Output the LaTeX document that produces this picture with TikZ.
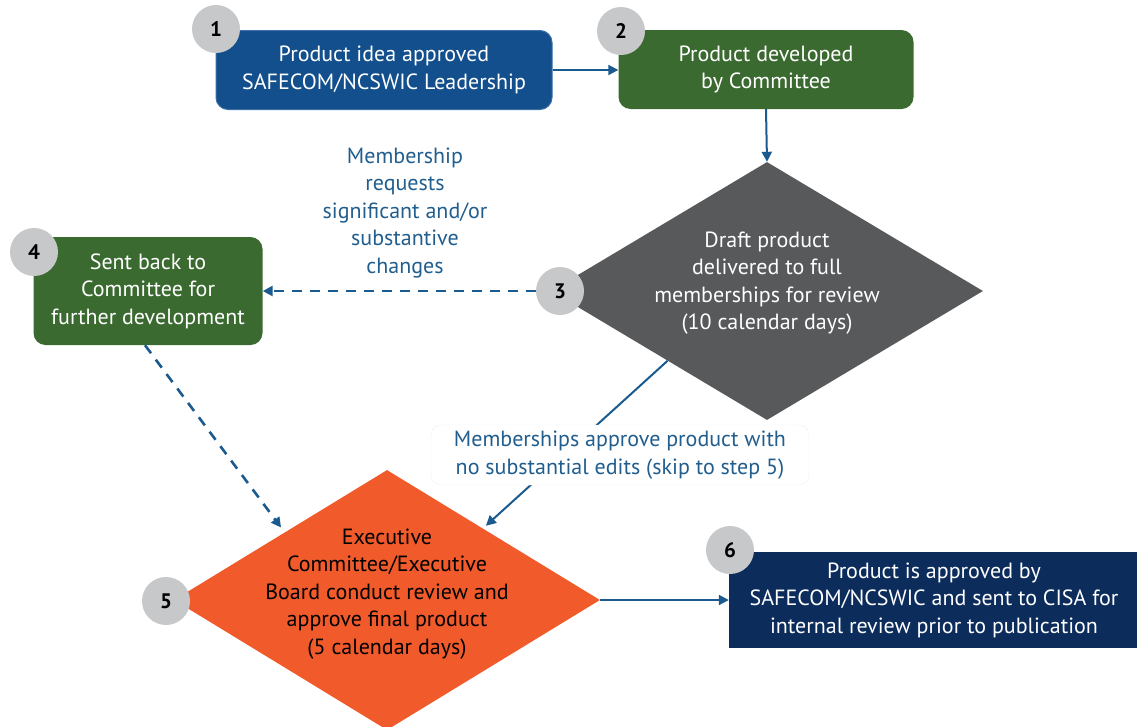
\documentclass[tikz,border=0pt]{standalone}
\usepackage{fontspec}
\setmainfont{PT Sans}
\usetikzlibrary{arrows.meta,shapes.geometric,calc}
\definecolor{bluebox}{HTML}{124F8C}
\definecolor{bluebord}{HTML}{3C6FA6}
\definecolor{greenbox}{HTML}{3B6A30}
\definecolor{graydia}{HTML}{58595B}
\definecolor{orangedia}{HTML}{F15A2B}
\definecolor{navybox}{HTML}{0C2C5C}
\definecolor{circgray}{HTML}{C7C8CA}
\definecolor{arrowblue}{HTML}{1A5A8E}
\definecolor{labelblue}{HTML}{215E8E}
\tikzset{
  boxtext/.style={font=\fontsize{22}{27.5}\selectfont, align=center, text=white},
  stepbox/.style={rectangle, rounded corners=12pt, inner sep=0pt, boxtext},
  numcirc/.style={circle, fill=circgray, minimum size=48pt, inner sep=0pt, font=\fontsize{21}{24}\selectfont\bfseries, text=black},
  conn/.style={draw=arrowblue, line width=2pt, -{Triangle[length=10pt,width=10pt]}},
  dconn/.style={conn, line width=2.6pt, dash pattern=on 10pt off 8pt},
  lbl/.style={font=\fontsize{22}{27.5}\selectfont, align=center, text=labelblue},
}
\begin{document}
\begin{tikzpicture}[x=1pt,y=-1pt]
\useasboundingbox (0,0) rectangle (1137,726);
% boxes
\node[stepbox, fill=bluebox, draw=bluebord, line width=1pt, minimum width=336pt, minimum height=79pt] (b1) at (384,70) {Product idea approved\\SAFECOM/NCSWIC Leadership};
\node[stepbox, fill=greenbox, minimum width=295pt, minimum height=79pt] (b2) at (766,69.5) {Product developed\\by Committee};
\node[stepbox, fill=greenbox, minimum width=229pt, minimum height=108pt] (b4) at (148,291) {Sent back to\\Committee for\\further development};
\node[rectangle, inner sep=0pt, fill=navybox, minimum width=410pt, minimum height=96pt, boxtext] (b6) at (934,600) {Product is approved by\\SAFECOM/NCSWIC and sent to CISA for\\internal review prior to publication};
% diamonds
\node[diamond, fill=graydia, minimum width=432pt, minimum height=258pt, inner sep=0pt] (d3) at (767,291) {};
\node[boxtext] (t3) at (767,283) {Draft product\\delivered to full\\memberships for review\\(10 calendar days)};
\node[diamond, fill=orangedia, minimum width=426pt, minimum height=260pt, inner sep=0pt] (d5) at (387,600) {};
\node[boxtext, text=black] (t5) at (387,594) {Executive\\Committee/Executive\\Board conduct review and\\approve final product\\(5 calendar days)};
% number circles
\node[numcirc] (c1) at (216,29) {1};
\node[numcirc] (c2) at (621,31) {2};
\node[numcirc] (c3) at (560,291) {3};
\node[numcirc] (c4) at (34,252) {4};
\node[numcirc] (c5) at (166,601) {5};
\node[numcirc] (c6) at (730,550) {6};
% label
\node[lbl] (l34) at (405,213) {Membership\\requests\\significant and/or\\substantive\\changes};
% connectors
\draw[conn] (b1.east) -- (b2.west |- b1.east);
\draw[conn] (b2.south) -- (d3.north);
\draw[dconn] (c3.west) -- (b4.east);
\coordinate (d5nw) at ($(d5.west)!0.52!(d5.north)$);
\draw[dconn, shorten >=6pt] ($(b4.south)+(-3,0)$) -- (d5nw);
\coordinate (d3sw) at ($(d3.west)!0.54!(d3.south)$);
\coordinate (d5ne) at ($(d5.north)!0.45!(d5.east)$);
\draw[conn, shorten >=4pt] (d3sw) -- (d5ne);
\node[fill=white, draw=black!6, rounded corners=10pt, minimum width=378pt, minimum height=60pt, inner sep=0pt, lbl] (l35) at (620,455) {Memberships approve product with\\no substantial edits (skip to step 5)};
\draw[conn] (d5.east) -- (b6.west);
\end{tikzpicture}
\end{document}
